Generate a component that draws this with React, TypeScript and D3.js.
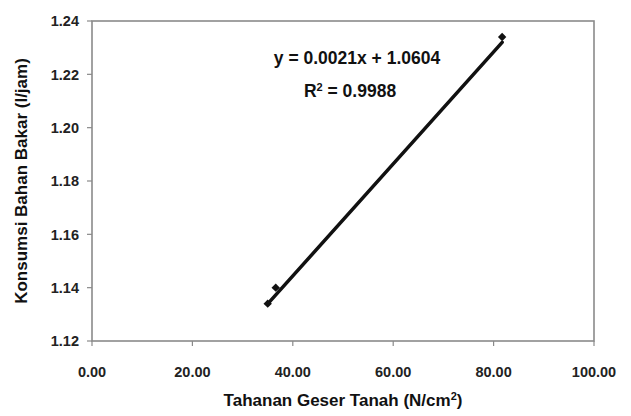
import React from 'react';
import * as d3 from 'd3';

// data
const shearX = [35.0, 36.6, 81.7];
const fuelY = [1.134, 1.14, 1.234];
const slope = 0.0021;
const intercept = 1.0604;
const xTicks = [0, 20, 40, 60, 80, 100];
const yTicks = [1.12, 1.14, 1.16, 1.18, 1.2, 1.22, 1.24];

const W = 631;
const H = 416;
const FONT = '"Liberation Sans", Arial, sans-serif';

export default function App() {
  const x = d3.scaleLinear().domain([0, 100]).range([92, 594]);
  const y = d3.scaleLinear().domain([1.12, 1.24]).range([341, 21]);

  const [x0, x1] = d3.extent(shearX) as [number, number];
  const trend = d3.line<number>()
    .x(d => x(d))
    .y(d => y(slope * d + intercept));

  // square diamond marker like excel's
  const marker = d3.symbol().type(d3.symbolDiamond2).size(45)();
  const axisColor = '#8a8a8a';

  return (
    <svg width={W} height={H} style={{ position: 'absolute', left: 0, top: 0, background: '#fff' }}
      fontFamily={FONT} fontWeight="bold">
      {/* frame */}
      <rect x={x(0)} y={y(1.24)} width={x(100) - x(0)} height={y(1.12) - y(1.24)}
        fill="#fff" stroke={axisColor} strokeWidth={1.6} />

      {/* y ticks */}
      {yTicks.map(t => (
        <g key={t}>
          <line x1={x(0) - 5} x2={x(0)} y1={y(t)} y2={y(t)} stroke={axisColor} strokeWidth={1.2} />
          <text x={79} y={y(t)} dy="0.36em" textAnchor="end" fontSize={14.5} fill="#222">
            {t.toFixed(2)}
          </text>
        </g>
      ))}

      {/* x ticks */}
      {xTicks.map(t => (
        <g key={t}>
          <line x1={x(t)} x2={x(t)} y1={y(1.12)} y2={y(1.12) + 5} stroke={axisColor} strokeWidth={1.2} />
          <text x={x(t)} y={377} textAnchor="middle" fontSize={14.5} fill="#222">
            {t.toFixed(2)}
          </text>
        </g>
      ))}

      {/* trendline */}
      <path d={trend([x0, x1]) || ''} fill="none" stroke="#111" strokeWidth={3.5} strokeLinecap="round" />

      {/* points */}
      {shearX.map((v, i) => (
        <path key={i} d={marker || ''} transform={`translate(${x(v)},${y(fuelY[i])})`} fill="#111" />
      ))}

      {/* equation */}
      <text x={357} y={64} textAnchor="middle" fontSize={17.5} fill="#111">
        y = 0.0021x + 1.0604
      </text>
      <text x={350} y={97} textAnchor="middle" fontSize={17.5} fill="#111">
        R<tspan fontSize={11} dy={-6}>2</tspan><tspan dy={6}> = 0.9988</tspan>
      </text>

      {/* axis titles */}
      <text x={(x(0) + x(100)) / 2} y={406} textAnchor="middle" fontSize={17} fill="#111">
        Tahanan Geser Tanah (N/cm<tspan fontSize={11} dy={-6}>2</tspan><tspan dy={6}>)</tspan>
      </text>
      <text transform={`translate(27,${(y(1.12) + y(1.24)) / 2}) rotate(-90)`} textAnchor="middle"
        fontSize={17} fill="#111">
        Konsumsi Bahan Bakar (l/jam)
      </text>
    </svg>
  );
}
